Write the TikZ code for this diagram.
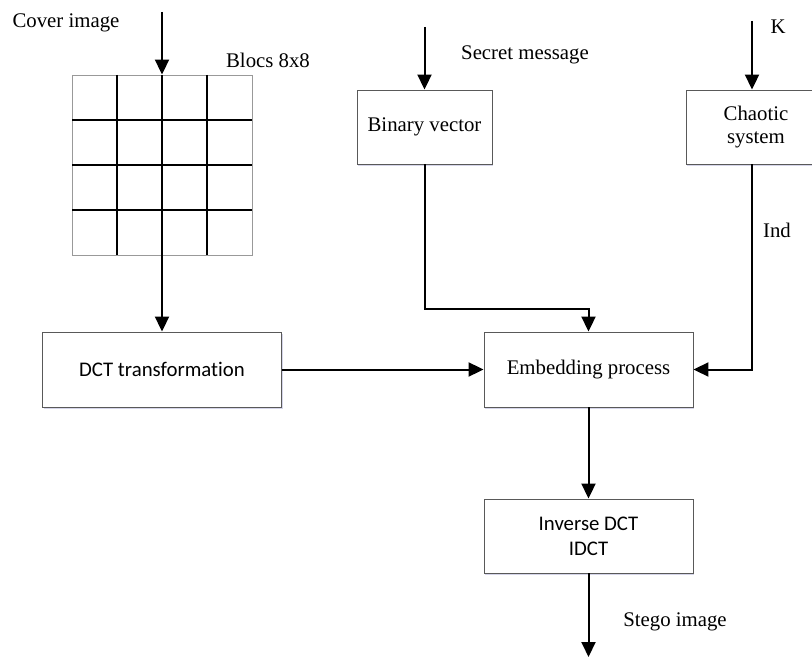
\documentclass[tikz,border=0pt]{standalone}
\usepackage{fontspec}
\setmainfont{Liberation Serif}
\newfontfamily\calib[Ligatures=NoCommon]{Carlito}
\usepackage{tikz}
\usetikzlibrary{arrows.meta,positioning,shadows}

\begin{document}
\begin{tikzpicture}[
        x=0.5pt, y=-0.5pt,
        font=\fontsize{10.4}{12.5}\selectfont,
        box/.style={rectangle, draw=gray!70!black, line width=0.45pt, fill=white, align=center,
            drop shadow={shadow xshift=0.5pt, shadow yshift=-0.9pt, opacity=0.25, fill=blue!30!gray}},
        sans/.style={font=\calib\fontsize{10.4}{12.5}\selectfont},
        arrow/.style={-{Triangle[width=7pt,length=7.5pt]}, line width=1pt},
        lbl/.style={inner sep=0pt}
    ]
        \useasboundingbox (0,0) rectangle (812,657);

        \node[lbl] (covtxt) at (66,23) {Cover image};
        \node[lbl] (bloctxt) at (268,60) {Blocs 8x8};
        \node[lbl] (sectxt) at (525,55) {Secret message};
        \node[lbl] (ktxt) at (778,27) {K};
        \node[lbl] (indtxt) at (777,230) {Ind};
        \node[lbl] (stegotxt) at (675,622) {Stego image};

        \node[rectangle, draw=gray!80, line width=0.45pt, minimum width=90pt, minimum height=90pt,
            inner sep=0pt] (blocs) at (162,165) {};
        \foreach \k in {117,162,207} {
            \draw[line width=1pt] (\k,75) -- (\k,255);
        }
        \foreach \k in {120,165,210} {
            \draw[line width=1pt] (72,\k) -- (252,\k);
        }

        \node[box, sans, minimum width=119.5pt, minimum height=37.5pt] (dct) at (162,369.5) {DCT transformation};
        \node[box, minimum width=104.5pt, minimum height=37.5pt] (emb) at (588.5,369.5) {Embedding process};
        \node[box, minimum width=67.5pt, minimum height=37pt] (bin) at (424.5,127) {Binary vector};
        \node[box, minimum width=70pt, minimum height=37pt] (chaos) at (756,127) {Chaotic\\[-1pt]system};
        \node[box, sans, minimum width=104.5pt, minimum height=37pt] (idct) at (588.5,536) {Inverse DCT\\IDCT};

        \coordinate (covin) at (162,12);
        \coordinate (secin) at (424.5,27);
        \coordinate (kin) at (752,21);
        \coordinate (stegout) at (588.5,657);

        \draw[arrow] (covin) -- (blocs.north);
        \draw[arrow] (blocs.south) -- (dct.north);
        \draw[arrow] (secin) -- (bin.north);
        \draw[arrow] (kin) -- (kin |- chaos.north);
        \draw[arrow] (bin.south) -- ++(0,145) -| (emb.north);
        \draw[arrow] (kin |- chaos.south) |- (emb.east);
        \draw[arrow] (dct.east) -- (emb.west);
        \draw[arrow] (emb.south) -- (idct.north);
        \draw[arrow] (idct.south) -- (stegout);
    \end{tikzpicture}
\end{document}
